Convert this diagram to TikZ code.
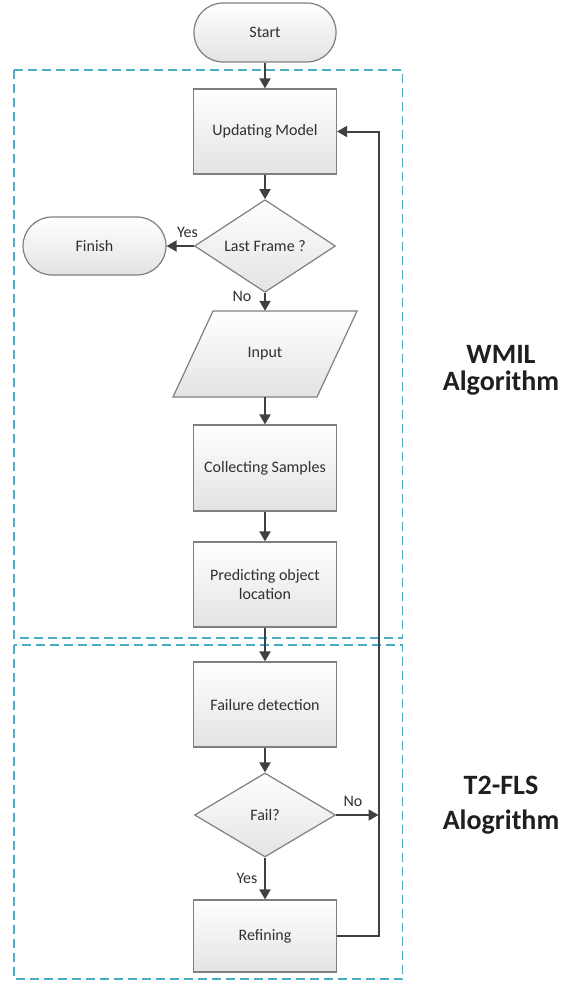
\documentclass[tikz,border=0pt]{standalone}
\usepackage{fontspec}
\setmainfont{Carlito}
\usetikzlibrary{shapes.geometric,arrows.meta,calc}
\definecolor{frameblue}{HTML}{4BACC6}
\definecolor{edgegray}{HTML}{404040}
\definecolor{boxline}{HTML}{7F7F7F}
\definecolor{textgray}{HTML}{303030}
\begin{document}
\begin{tikzpicture}[x=1pt,y=-1pt,
  shapebase/.style={draw=boxline, line width=1.2pt, top color=white, bottom color=black!11,
    text=textgray, font=\fontsize{16}{19}\selectfont, align=center},
  proc/.style={shapebase, rectangle, minimum width=143pt, minimum height=85pt, inner sep=2pt},
  term/.style={shapebase, rectangle, rounded corners=29pt, minimum width=142pt, minimum height=59pt},
  decide/.style={shapebase, diamond, inner sep=0pt, minimum width=141pt, minimum height=83pt},
  flow/.style={draw=edgegray, line width=2pt, -{Triangle[length=10pt,width=11pt]}},
  lbl/.style={font=\fontsize{16}{19}\selectfont, text=textgray},
  groupframe/.style={draw=frameblue, line width=1.3pt, dash pattern=on 9pt off 5pt},
  title/.style={font=\fontsize{28}{30}\selectfont\bfseries, text=black!88, anchor=base}]

\useasboundingbox (0,0) rectangle (568,982);

% algorithm group frames
\draw[groupframe] (14,70) rectangle (402.5,638);
\draw[groupframe] (14,645) rectangle (402.5,979);

% flow nodes
\node[term] (start) at (265,32.5) {Start};
\node[proc] (upd) at (265,131.5) {Updating Model};
\node[decide] (last) at (265,246) {Last Frame ?};
\node[term, minimum width=143pt, minimum height=58pt] (finish) at (94.5,246) {Finish};

% input parallelogram
\coordinate (inC) at (265,354);
\path[shapebase] ($(inC)+(-52,-43)$) -- ($(inC)+(92,-43)$) -- ($(inC)+(52,43)$) -- ($(inC)+(-92,43)$) -- cycle;
\node[lbl, minimum width=104pt, minimum height=86pt, inner sep=0pt] (input) at (inC) {Input};

\node[proc, minimum height=86pt] (collect) at (265,468) {Collecting Samples};
\node[proc] (predict) at (265,584.5) {Predicting object\\location};
\node[proc] (fdet) at (265,704.5) {Failure detection};
\node[decide, minimum height=84pt] (fail) at (265,815) {Fail?};
\node[proc, minimum height=72pt] (refine) at (265,936) {Refining};

\coordinate (loop) at (378.5,131.5);

% connectors
\draw[flow] (start) -- (upd);
\draw[flow] (upd) -- (last);
\draw[flow] (last.west) -- (finish.east);
\draw[flow] (last) -- (input);
\draw[flow] (input) -- (collect);
\draw[flow] (collect) -- (predict);
\draw[flow] (predict) -- (fdet);
\draw[flow] (fdet) -- (fail);
\draw[flow] (fail) -- (refine);
\draw[flow] (fail.east) -- (fail.east -| loop);
\draw[flow] (refine.east) -| (loop) -- (upd.east);

% branch labels
\node[lbl] (yes1) at (187.5,232) {Yes};
\node[lbl] (no1) at (242,296) {No};
\node[lbl] (no2) at (353,801) {No};
\node[lbl] (yes2) at (247,878) {Yes};

% group titles
\node[title] (wmilA) at (501,363) {WMIL};
\node[title] (wmilB) at (501,390) {Algorithm};
\node[title] (flsA) at (501,794) {T2-FLS};
\node[title] (flsB) at (501,829) {Alogrithm};
\end{tikzpicture}
\end{document}
